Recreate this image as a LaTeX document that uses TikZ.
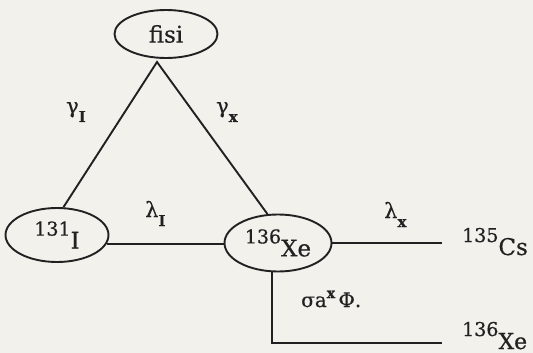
\documentclass[tikz,border=0pt]{standalone}
\usepackage{fontspec}
\setmainfont{DejaVu Serif}[FakeBold=0.5]
\usetikzlibrary{shapes.geometric}
\definecolor{paper}{RGB}{243,241,236}
\definecolor{ink}{RGB}{34,32,32}
\newcommand\myiso[2]{\raisebox{13pt}{\fontsize{19}{19}\selectfont #1}#2}
\newcommand\mysub[2]{#1\raisebox{-9pt}{\fontsize{15}{15}\selectfont\bfseries #2}}
\begin{document}
\begin{tikzpicture}[x=1pt,y=-1pt,
  nuc/.style={ellipse, draw=ink, line width=1.9pt, inner sep=0pt, text=ink,
              font=\fontsize{23}{26}\selectfont},
  lbl/.style={inner sep=0pt, anchor=base west, text=ink,
              font=\fontsize{21}{24}\selectfont},
  prod/.style={lbl, font=\fontsize{23}{26}\selectfont},
  link/.style={draw=ink, line width=1.9pt}]
\fill[paper] (0,0) rectangle (533,353);
\useasboundingbox (0,0) rectangle (533,353);

\node[nuc, minimum width=103pt, minimum height=48pt] (fisi) at (166,34) {fisi};
\node[nuc, minimum width=103pt, minimum height=54pt] (iod) at (57,235) {\myiso{131}{I}};
\node[nuc, minimum width=107pt, minimum height=57pt] (xe) at (278,243) {\myiso{136}{Xe}};

\node[prod] (cs) at (462,255) {\myiso{135}{Cs}};
\node[prod, font=\fontsize{22}{25}\selectfont] (xe2) at (462,349) {\myiso{136}{Xe}};

\node[lbl] (gi) at (66,113) {\mysub{γ}{I}};
\node[lbl] (gx) at (216,113) {\mysub{γ}{x}};
\node[lbl] (li) at (145,217) {\mysub{λ}{I}};
\node[lbl] (lx) at (384,218) {\mysub{λ}{x}};
\node[lbl, font=\fontsize{20}{24}\selectfont] (sig) at (301,307)
  {σa\raisebox{9pt}{\fontsize{14}{14}\selectfont\bfseries x}\,Φ.};

\coordinate (apex) at (157,62);
\coordinate (csend) at (442,245);
\coordinate (corner) at (272,343);
\coordinate (xeend) at (442,343);

\draw[link] (iod.77) -- (apex) -- (xe.110);
\draw[link] (iod.-10) -- (iod.-10 -| xe.west);
\draw[link] (xe.east) -- (xe.east -| csend);
\draw[link] (xe.south -| corner) -- (corner) -- (xeend);
\end{tikzpicture}
\end{document}
